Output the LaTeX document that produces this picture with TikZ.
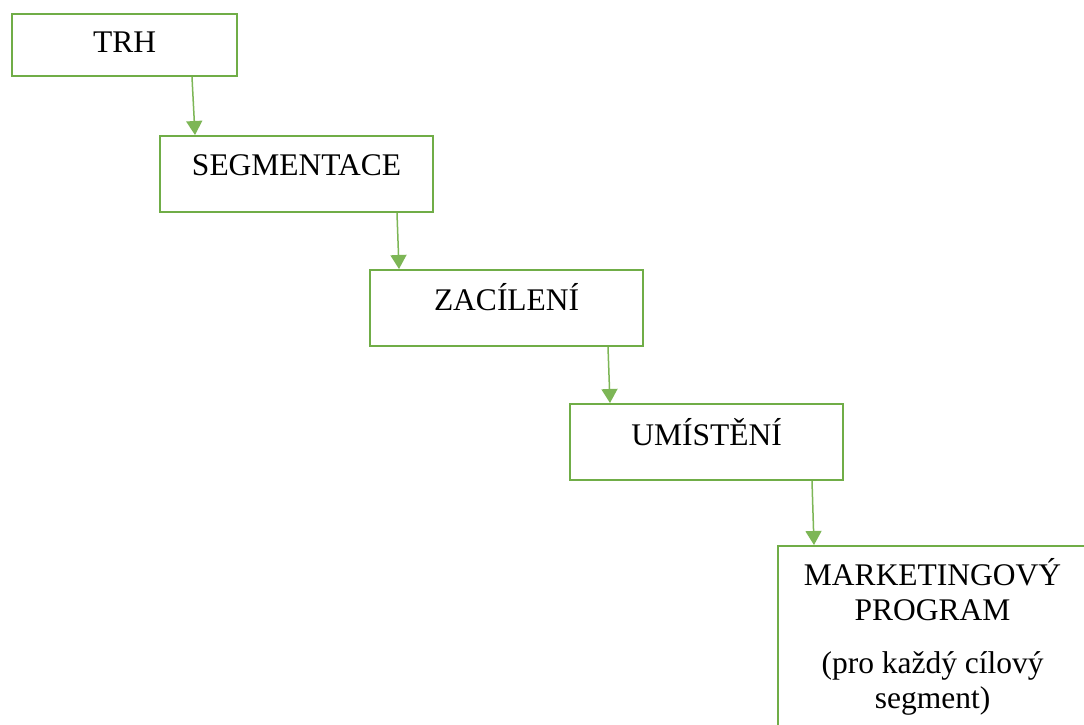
\documentclass[tikz,border=0pt]{standalone}
\usepackage{fontspec}
\setmainfont{Liberation Serif}
\usetikzlibrary{positioning,arrows.meta,calc}
\definecolor{StageGreen}{RGB}{112,173,71}
\definecolor{FlowGreen}{RGB}{125,182,86}

\begin{document}
\begin{tikzpicture}[x=1pt, y=-1pt,
    every node/.style={font=\fontsize{31.5}{35}\selectfont, align=center},
    stage/.style={draw=StageGreen, line width=2.2pt, fill=white, anchor=north west,
                  minimum width=273pt, inner xsep=0pt, text height=21pt},
    flow/.style={-{Triangle[width=16pt,length=14pt]}, line width=1.5pt, FlowGreen}]
  \useasboundingbox (0,0) rectangle (1084,724);
  \fill[white] (0,0) rectangle (1084,724);
  \clip (0,0) rectangle (1084,724);
  \node[stage, minimum width=225pt, inner ysep=17pt, text depth=7pt] (trh) at (11,13) {TRH};
  \node[stage, inner ysep=18pt, text depth=19pt] (seg) at (159,135) {SEGMENTACE};
  \node[stage, inner ysep=19pt, text depth=17pt] (zac) at (369,269) {ZACÍLENÍ};
  \node[stage, inner ysep=20pt, text depth=15pt] (umi) at (569,403) {UMÍSTĚNÍ};
  \node[stage, minimum width=309pt, minimum height=220pt, text height=0pt, inner sep=0pt] (mkt) at (777,545) {};
  \node[anchor=north, inner sep=0pt] (mkttext) at ([yshift=-13pt]mkt.north)
    {MARKETINGOVÝ\\PROGRAM\\[18pt](pro každý cílový\\segment)};
  \foreach \a/\b/\s/\e in {trh/seg/181/36,seg/zac/238/30,zac/umi/239/41,umi/mkt/243/37}
    \draw[flow] ([xshift=\s pt]\a.south west) -- ([xshift=\e pt]\b.north west);
\end{tikzpicture}
\end{document}
